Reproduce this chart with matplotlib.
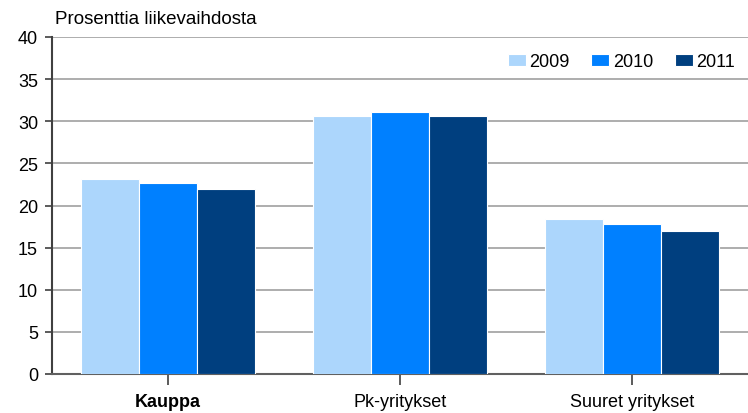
import numpy as np
import matplotlib.pyplot as plt

plt.rcParams['font.family'] = ['Liberation Sans', 'DejaVu Sans']

# Data
categories = ['Kauppa', 'Pk-yritykset', 'Suuret yritykset']
years = ['2009', '2010', '2011']
values_2009 = [23.1, 30.6, 18.4]
values_2010 = [22.7, 31.1, 17.8]
values_2011 = [22.0, 30.6, 17.0]
colors = ['#acd6fc', '#0080ff', '#003f7f']

fig = plt.figure(figsize=(7.48, 4.14), dpi=100)
ax = fig.add_axes([52 / 748, 1 - 375 / 414, 1 - 52 / 748, 337 / 414])

x = np.arange(len(categories))
w = 0.25
for i, (vals, yr) in enumerate(zip([values_2009, values_2010, values_2011], years)):
    ax.bar(x + (i - 1) * w, vals, width=w, color=colors[i],
           edgecolor='white', linewidth=0.8, label=yr, zorder=3)

ax.set_xlim(-0.5, 2.5)
ax.set_ylim(0, 40)
ax.set_yticks(range(0, 41, 5))
ax.yaxis.grid(True, color='#a0a0a0', linewidth=1.2, zorder=0)
ax.set_axisbelow(True)

ax.set_xticks(x)
ax.set_xticklabels(categories, fontsize=13)
ax.get_xticklabels()[0].set_fontweight('bold')
ax.tick_params(axis='x', length=8, width=1.2, color='#404040', pad=6)
ax.tick_params(axis='y', length=5, width=1.2, color='#404040', labelsize=13, pad=5)

for s in ['top', 'right']:
    ax.spines[s].set_visible(False)
ax.spines['left'].set_color('#404040')
ax.spines['left'].set_linewidth(1.5)
ax.spines['bottom'].set_color('#606060')
ax.spines['bottom'].set_linewidth(1.5)

ax.legend(loc='upper right', bbox_to_anchor=(1.005, 1.0), ncol=3, frameon=False,
          fontsize=13, handlelength=1.0, handleheight=0.7, handletextpad=0.2,
          columnspacing=1.2)

fig.text(55 / 748, 1 - 20 / 414, 'Prosenttia liikevaihdosta', fontsize=13.5,
         va='center', ha='left')

fig.savefig('out.png', dpi=100)
